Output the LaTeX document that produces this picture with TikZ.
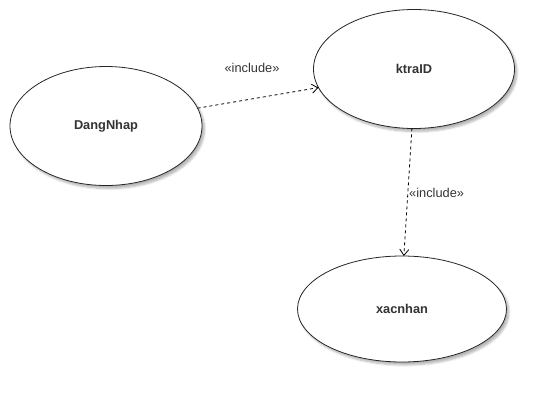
\documentclass[tikz,border=0pt]{standalone}
\usepackage{fontspec}
\setmainfont{Liberation Sans}
\usetikzlibrary{shapes.geometric,arrows.meta,shadows.blur}
\definecolor{txt}{HTML}{333333}
\tikzset{
  usecase/.style={ellipse, draw=black!85, line width=0.8pt, fill=white, inner sep=0pt, outer sep=0pt,
    font=\fontsize{12.8}{14}\selectfont\bfseries, text=txt,
    blur shadow={shadow xshift=2.5pt, shadow yshift=-3pt, shadow blur steps=6, shadow opacity=30}},
  incl/.style={draw=black, line width=0.8pt, dash pattern=on 3pt off 3pt, -{Straight Barb[length=6pt,width=9pt]}},
  lbl/.style={font=\fontsize{12.8}{14}\selectfont, text=txt, inner sep=0pt}
}
\begin{document}
\begin{tikzpicture}[x=1pt,y=-1pt]
\useasboundingbox (0,0) rectangle (554,402);
\node[usecase, minimum width=192pt, minimum height=119pt] (D) at (106,126) {DangNhap};
\node[usecase, minimum width=201pt, minimum height=119pt] (K) at (414,69) {ktraID};
\node[usecase, minimum width=209pt, minimum height=106pt] (X) at (402,309) {xacnhan};
\draw[incl] (D.11) -- (K.191);
\draw[incl] (K.268) -- (X.88);
\node[lbl] (L1) at (252,68) {«include»};
\node[lbl, anchor=west] (L2) at (409,193) {«include»};
\end{tikzpicture}
\end{document}
